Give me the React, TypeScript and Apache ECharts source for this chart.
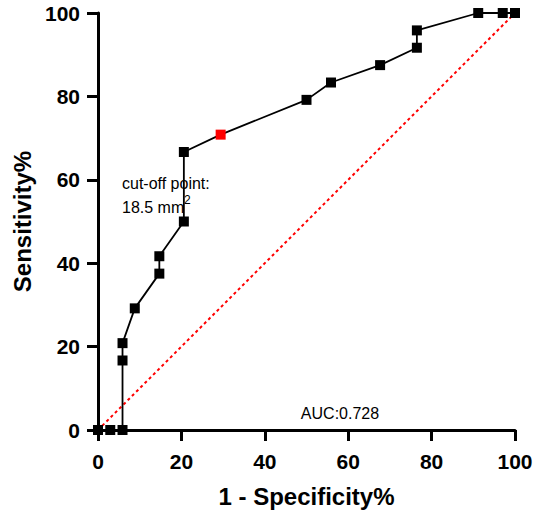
import React, { useEffect, useRef } from "react";
import * as echarts from "echarts";

const fpr = [0, 2.94, 5.88, 5.88, 5.88, 8.82, 14.71, 14.71, 20.59, 20.59, 29.41, 50, 55.88, 67.65, 76.47, 76.47, 91.18, 97.06, 100];
const tpr = [0, 0, 0, 16.67, 20.83, 29.17, 37.5, 41.67, 50, 66.67, 70.83, 79.17, 83.33, 87.5, 91.67, 95.83, 100, 100, 100];
const cutoffIndex = 10;
const diagX = [0, 100];
const diagY = [0, 100];
const xTicks = [0, 20, 40, 60, 80, 100];
const aucText = "AUC:0.728";
const cutoffLines = ["cut-off point:", "18.5 mm", "2"];

const FONT = '"Liberation Sans", Arial, Helvetica, sans-serif';

export default function App() {
  const ref = useRef<HTMLDivElement>(null);
  useEffect(() => {
    if (!ref.current) return;
    const chart = echarts.init(ref.current, undefined, { renderer: "svg" });
    const roc = fpr.map((x, i) =>
      i === cutoffIndex
        ? { value: [x, tpr[i]], itemStyle: { color: "#ff0000" } }
        : { value: [x, tpr[i]] }
    );
    const axisCommon = {
      min: 0,
      max: 100,
      interval: 20,
      axisLine: { show: true, lineStyle: { color: "#000", width: 3 } },
      axisTick: { show: true, inside: false, length: 11, lineStyle: { color: "#000", width: 3 } },
      splitLine: { show: false },
      nameTextStyle: { fontFamily: FONT, fontWeight: "bold", fontSize: 24, color: "#000" },
    };
    chart.setOption({
      animation: false,
      backgroundColor: "#fff",
      grid: { left: 98, right: 35, top: 13, bottom: 88, containLabel: false },
      xAxis: {
        type: "value",
        ...axisCommon,
        name: "1 - Specificity%",
        nameLocation: "middle",
        nameGap: 54,
        axisLabel: {
          margin: 21,
          fontFamily: FONT,
          fontWeight: "bold",
          fontSize: 21,
          color: "#000",
          customValues: xTicks,
        },
      },
      yAxis: {
        type: "value",
        ...axisCommon,
        name: "Sensitivity%",
        nameLocation: "middle",
        nameGap: 64,
        nameRotate: 90,
        axisLabel: { margin: 18, fontFamily: FONT, fontWeight: "bold", fontSize: 21, color: "#000" },
      },
      series: [
        {
          type: "line",
          data: diagX.map((x, i) => [x, diagY[i]]),
          symbol: "none",
          lineStyle: { color: "#ff0000", width: 2, type: [3, 3] },
          z: 1,
        },
        {
          type: "line",
          data: roc,
          symbol: "rect",
          symbolSize: 10,
          clip: false,
          itemStyle: { color: "#000" },
          lineStyle: { color: "#000", width: 1.8 },
          z: 3,
        },
      ],
      graphic: [
        {
          type: "text",
          style: { x: 122, y: 183, text: cutoffLines[0], fill: "#000", font: `16px ${FONT}`, align: "left", verticalAlign: "middle" },
          z: 10,
        },
        {
          type: "text",
          style: { x: 122, y: 207, text: cutoffLines[1], fill: "#000", font: `16px ${FONT}`, align: "left", verticalAlign: "middle" },
          z: 10,
        },
        {
          type: "text",
          style: { x: 184, y: 200, text: cutoffLines[2], fill: "#000", font: `12px ${FONT}`, align: "left", verticalAlign: "middle" },
          z: 10,
        },
        {
          type: "text",
          style: { x: 340, y: 413, text: aucText, fill: "#000", font: `16px ${FONT}`, align: "center", verticalAlign: "middle" },
          z: 10,
        },
      ],
    });
    return () => chart.dispose();
  }, []);
  return <div ref={ref} style={{ position: "fixed", left: 0, top: 0, width: 550, height: 518 }} />;
}
